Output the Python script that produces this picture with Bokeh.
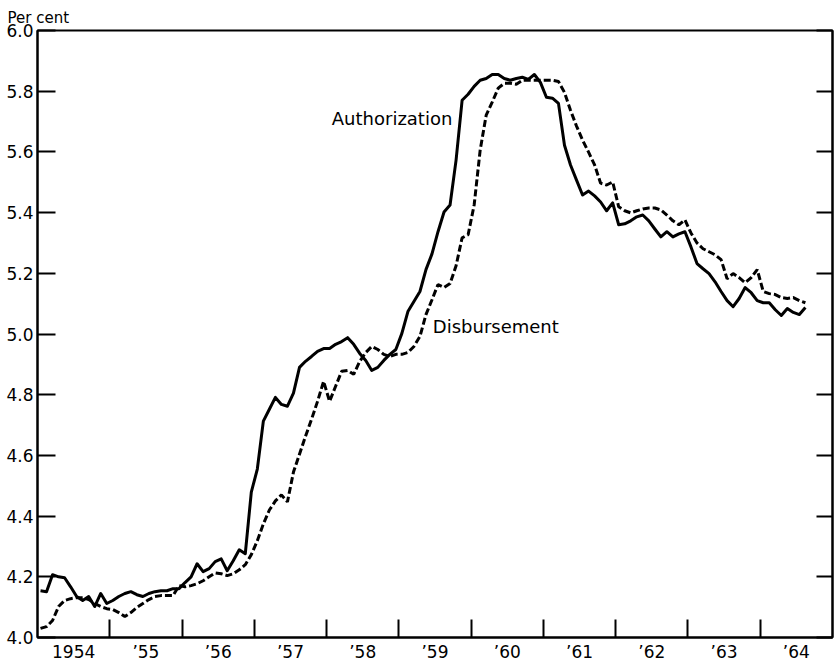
from bokeh.plotting import figure
from bokeh.models import FixedTicker, LinearAxis, Range1d, Label, NumeralTickFormatter
from bokeh.embed import file_html
from bokeh.resources import INLINE

# Monthly series, January 1954 onward (per cent)
authorization = [
    4.154, 4.151, 4.207, 4.200, 4.197, 4.167, 4.135, 4.122, 4.135, 4.102, 4.145, 4.112,
    4.122, 4.135, 4.145, 4.151, 4.141, 4.135, 4.145, 4.151, 4.154, 4.154, 4.161, 4.161,
    4.181, 4.200, 4.243, 4.217, 4.227, 4.250, 4.259, 4.220, 4.253, 4.289, 4.276, 4.479,
    4.555, 4.713, 4.752, 4.791, 4.768, 4.762, 4.805, 4.890, 4.910, 4.926, 4.943, 4.952,
    4.952, 4.966, 4.975, 4.988, 4.966, 4.936, 4.913, 4.880, 4.890, 4.913, 4.933, 4.949,
    5.002, 5.074, 5.107, 5.140, 5.212, 5.264, 5.337, 5.402, 5.425, 5.573, 5.770, 5.790,
    5.816, 5.836, 5.842, 5.855, 5.855, 5.842, 5.836, 5.842, 5.846, 5.839, 5.855, 5.829,
    5.780, 5.777, 5.760, 5.622, 5.557, 5.507, 5.458, 5.471, 5.455, 5.435, 5.406, 5.432,
    5.360, 5.363, 5.373, 5.386, 5.392, 5.373, 5.346, 5.320, 5.337, 5.320, 5.330, 5.337,
    5.287, 5.232, 5.215, 5.199, 5.172, 5.140, 5.110, 5.090, 5.117, 5.153, 5.136, 5.110,
    5.103, 5.103, 5.080, 5.061, 5.084, 5.071, 5.064, 5.087,
]
disbursement = [
    4.030, 4.036, 4.056, 4.102, 4.122, 4.128, 4.131, 4.131, 4.125, 4.112, 4.102, 4.095,
    4.092, 4.082, 4.069, 4.082, 4.099, 4.112, 4.125, 4.135, 4.138, 4.138, 4.138, 4.171,
    4.167, 4.171, 4.177, 4.187, 4.200, 4.213, 4.210, 4.204, 4.210, 4.223, 4.240, 4.273,
    4.319, 4.374, 4.420, 4.450, 4.470, 4.447, 4.545, 4.604, 4.663, 4.719, 4.778, 4.844,
    4.778, 4.828, 4.877, 4.880, 4.867, 4.910, 4.939, 4.959, 4.949, 4.933, 4.926, 4.933,
    4.933, 4.939, 4.959, 4.992, 5.064, 5.113, 5.163, 5.153, 5.166, 5.225, 5.317, 5.327,
    5.425, 5.606, 5.721, 5.764, 5.810, 5.826, 5.826, 5.823, 5.836, 5.836, 5.836, 5.836,
    5.836, 5.836, 5.832, 5.796, 5.737, 5.685, 5.639, 5.599, 5.557, 5.497, 5.491, 5.501,
    5.419, 5.406, 5.399, 5.406, 5.412, 5.415, 5.415, 5.409, 5.392, 5.373, 5.360, 5.376,
    5.333, 5.300, 5.281, 5.271, 5.261, 5.245, 5.182, 5.199, 5.186, 5.169, 5.186, 5.212,
    5.140, 5.133, 5.130, 5.120, 5.117, 5.120, 5.110, 5.103,
]
years = [1954, 1955, 1956, 1957, 1958, 1959, 1960, 1961, 1962, 1963, 1964]
year_labels = ["1954", "\u201955", "\u201956", "\u201957", "\u201958", "\u201959",
               "\u201960", "\u201961", "\u201962", "\u201963", "\u201964"]
y_ticks = [4.0, 4.2, 4.4, 4.6, 4.8, 5.0, 5.2, 5.4, 5.6, 5.8, 6.0]

x_auth = [years[0] + (m + 0.5) / 12 for m in range(len(authorization))]
x_disb = [years[0] + (m + 0.5) / 12 for m in range(len(disbursement))]

FONT = "DejaVu Sans"

p = figure(width=836, height=664, output_backend="svg", toolbar_location=None,
           x_range=Range1d(years[0], years[-1] + 1), y_range=Range1d(y_ticks[0], y_ticks[-1]),
           min_border_left=37, min_border_right=4, min_border_top=30, min_border_bottom=25,
           background_fill_color="white", border_fill_color="white",
           title="Per cent")
p.title.align = "left"
p.title.offset = -30
p.title.standoff = 7
p.title.text_font = FONT
p.title.text_font_size = "15px"
p.title.text_font_style = "normal"
p.title.text_color = "black"
p.grid.visible = False
p.outline_line_color = "black"
p.outline_line_width = 2

# bottom axis: labels centred in each year, tick marks at year boundaries (minor ticks)
xa = p.xaxis[0]
xa.ticker = FixedTicker(ticks=[y + 0.5 for y in years], minor_ticks=years[1:])
xa.major_label_overrides = {y + 0.5: lab for y, lab in zip(years, year_labels)}
xa.major_tick_line_color = None
xa.major_tick_in = 0
xa.major_tick_out = 0
xa.minor_tick_in = 18
xa.minor_tick_out = 0
xa.minor_tick_line_width = 2
xa.minor_tick_line_color = "black"
xa.axis_line_width = 2
xa.major_label_standoff = 4
xa.major_label_text_font = FONT
xa.major_label_text_font_size = "17px"
xa.major_label_text_color = "black"

ya = p.yaxis[0]
ya.ticker = FixedTicker(ticks=y_ticks)
ya.formatter = NumeralTickFormatter(format="0.0")
ya.major_tick_in = 18
ya.major_tick_out = 0
ya.major_tick_line_width = 2
ya.minor_tick_line_color = None
ya.axis_line_width = 2
ya.major_label_standoff = 4
ya.major_label_text_font = FONT
ya.major_label_text_font_size = "17px"
ya.major_label_text_color = "black"

ra = LinearAxis(ticker=FixedTicker(ticks=y_ticks), major_tick_in=16, major_tick_out=0,
                major_tick_line_width=2, minor_tick_line_color=None, axis_line_width=2,
                major_label_text_font_size="0px", major_label_standoff=0)
ra.major_label_overrides = {t: "" for t in y_ticks}
p.add_layout(ra, "right")

p.line(x_auth, authorization, line_color="black", line_width=3, line_join="round")
p.line(x_disb, disbursement, line_color="black", line_width=3, line_dash="7 3")

p.add_layout(Label(x=1959.74, y=5.711, text="Authorization", text_align="right",
                   text_baseline="middle", text_font=FONT, text_font_size="18px",
                   text_color="black"))
p.add_layout(Label(x=1959.47, y=5.025, text="Disbursement", text_align="left",
                   text_baseline="middle", text_font=FONT, text_font_size="18px",
                   text_color="black"))

open("out.html", "w").write(file_html(p, INLINE))
